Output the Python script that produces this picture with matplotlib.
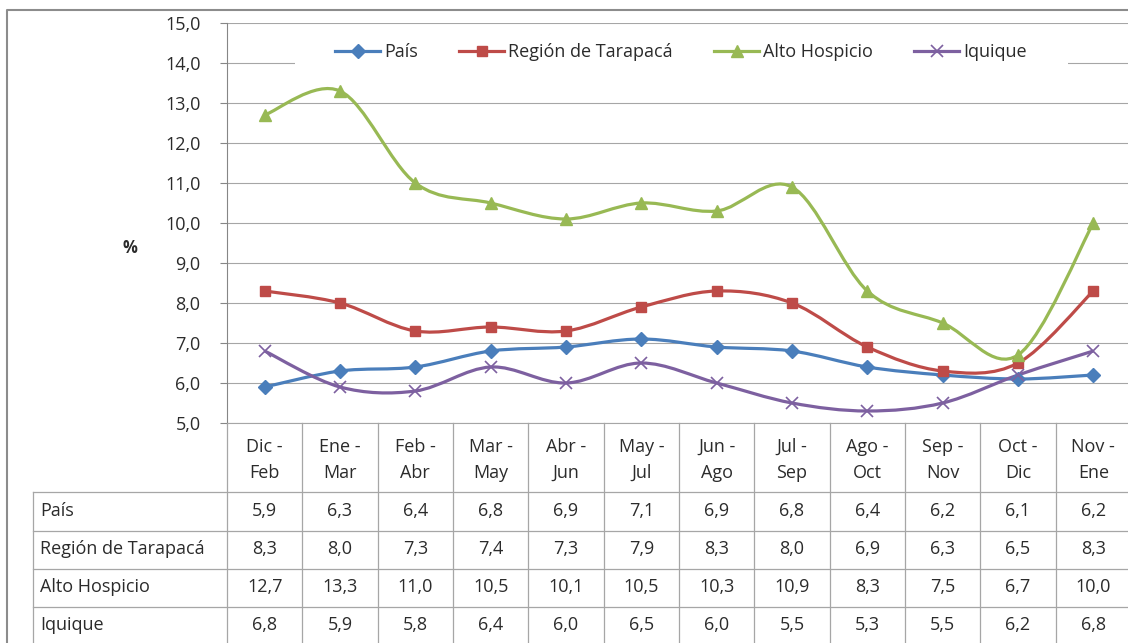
import numpy as np
import matplotlib.pyplot as plt
from matplotlib.path import Path
from matplotlib.patches import PathPatch, Rectangle
from matplotlib.lines import Line2D

plt.rcParams['font.family'] = ['Open Sans', 'DejaVu Sans']

periodos = ['Dic -\nFeb', 'Ene -\nMar', 'Feb -\nAbr', 'Mar -\nMay', 'Abr -\nJun', 'May -\nJul',
            'Jun -\nAgo', 'Jul -\nSep', 'Ago -\nOct', 'Sep -\nNov', 'Oct -\nDic', 'Nov -\nEne']
series = ['País', 'Región de Tarapacá', 'Alto Hospicio', 'Iquique']
pais = [5.9, 6.3, 6.4, 6.8, 6.9, 7.1, 6.9, 6.8, 6.4, 6.2, 6.1, 6.2]
region = [8.3, 8.0, 7.3, 7.4, 7.3, 7.9, 8.3, 8.0, 6.9, 6.3, 6.5, 8.3]
alto = [12.7, 13.3, 11.0, 10.5, 10.1, 10.5, 10.3, 10.9, 8.3, 7.5, 6.7, 10.0]
iquique = [6.8, 5.9, 5.8, 6.4, 6.0, 6.5, 6.0, 5.5, 5.3, 5.5, 6.2, 6.8]

valores = [pais, region, alto, iquique]
colores = ['#4A7EBB', '#BE4B48', '#98B954', '#7D60A0']
marcas = [dict(marker='D', ms=7.5), dict(marker='s', ms=7),
          dict(marker='^', ms=9), dict(marker='x', ms=8, mew=1.2)]

W, H = 1128, 643
x0, x1 = 227, 1131          # plot area in px
ytop, ybot = 23, 423
fs = 13
tc = '#2b2b2b'
fig = plt.figure(figsize=(W / 100, H / 100), dpi=100)

# background layer in pixel coords: frame + data table
bg = fig.add_axes([0, 0, 1, 1], zorder=0)
bg.set_xlim(0, W)
bg.set_ylim(H, 0)
bg.axis('off')

ax = fig.add_axes([x0 / W, 1 - ybot / H, (x1 - x0) / W, (ybot - ytop) / H], zorder=1)
ax.set_facecolor('none')
n = len(periodos)
ax.set_xlim(-0.5, n - 0.5)
ax.set_ylim(5, 15)
ax.set_yticks(np.arange(5, 15.1, 1))
ax.set_yticklabels([f'{v:.1f}'.replace('.', ',') for v in np.arange(5, 15.1, 1)])
ax.set_xticks([])
ax.grid(axis='y', color='#A6A6A6', lw=0.8)
ax.set_axisbelow(True)
for s in ['top', 'right']:
    ax.spines[s].set_visible(False)
ax.spines['left'].set_color('#868686')
ax.spines['bottom'].set_color('#A6A6A6')
ax.tick_params(axis='y', length=5, color='#868686', pad=14, labelsize=fs, labelcolor=tc)
fig.text(130 / W, 1 - 248 / H, '%', ha='center', va='center', fontsize=12,
         fontweight='bold', color=tc)


def curva(xs, ys):
    # smoothed line (Catmull-Rom as cubic Bezier), like Excel "smoothed line"
    p = np.column_stack([xs, ys]).astype(float)
    p = np.vstack([p[0], p, p[-1]])
    verts = [p[1]]
    codes = [Path.MOVETO]
    for i in range(1, len(p) - 2):
        c1 = p[i] + (p[i + 1] - p[i - 1]) / 6
        c2 = p[i + 1] - (p[i + 2] - p[i]) / 6
        verts += [c1, c2, p[i + 1]]
        codes += [Path.CURVE4] * 3
    return Path(verts, codes)


xs = np.arange(n)
handles = []
for nombre, ys, c, m in zip(series, valores, colores, marcas):
    ax.add_patch(PathPatch(curva(xs, ys), fill=False, edgecolor=c, lw=2.3, zorder=3))
    ax.plot(xs, ys, ls='none', color=c, zorder=4, **m)
    handles.append(Line2D([], [], color=c, lw=2.3, **m))

# white legend area hiding the gridline behind it
ax.add_patch(Rectangle((295 / W, 1 - 70 / H), (1068 - 295) / W, 34 / H, transform=fig.transFigure,
                       facecolor='white', edgecolor='none', zorder=1.5))
leg = ax.legend(handles, series, loc='center', ncol=4, bbox_to_anchor=(681 / W, 1 - 52 / H),
                bbox_transform=fig.transFigure, frameon=False, fontsize=fs,
                handlelength=2.5, handletextpad=0.2, columnspacing=2.3, borderpad=0.2)
for t in leg.get_texts():
    t.set_color(tc)

# outer frame
bg.plot([7, 7, W + 5], [H + 5, 10, 10], color='#8C8C8C', lw=1.5)

# data table
cw = (x1 - x0) / n
filas = [492, 531, 569, 607, 645]
lc = '#A6A6A6'
for yy in filas:
    bg.plot([33, x1], [yy, yy], color=lc, lw=0.9)
bg.plot([33, 33], [filas[0], filas[-1]], color=lc, lw=0.9)
for k in range(n + 1):
    bg.plot([x0 + k * cw] * 2, [ybot, filas[-1]], color=lc, lw=0.9)
for i, lab in enumerate(periodos):
    bg.text(x0 + (i + 0.5) * cw, 460, lab, ha='center', va='center', fontsize=fs,
            color=tc, linespacing=1.6)
for r, (nombre, ys) in enumerate(zip(series, valores)):
    yc = (filas[r] + filas[r + 1]) / 2 - 1
    bg.text(40, yc, nombre, ha='left', va='center', fontsize=fs, color=tc)
    for i, v in enumerate(ys):
        bg.text(x0 + (i + 0.5) * cw, yc, f'{v:.1f}'.replace('.', ','), ha='center',
                va='center', fontsize=fs, color=tc)

fig.savefig('out.png', dpi=100)
